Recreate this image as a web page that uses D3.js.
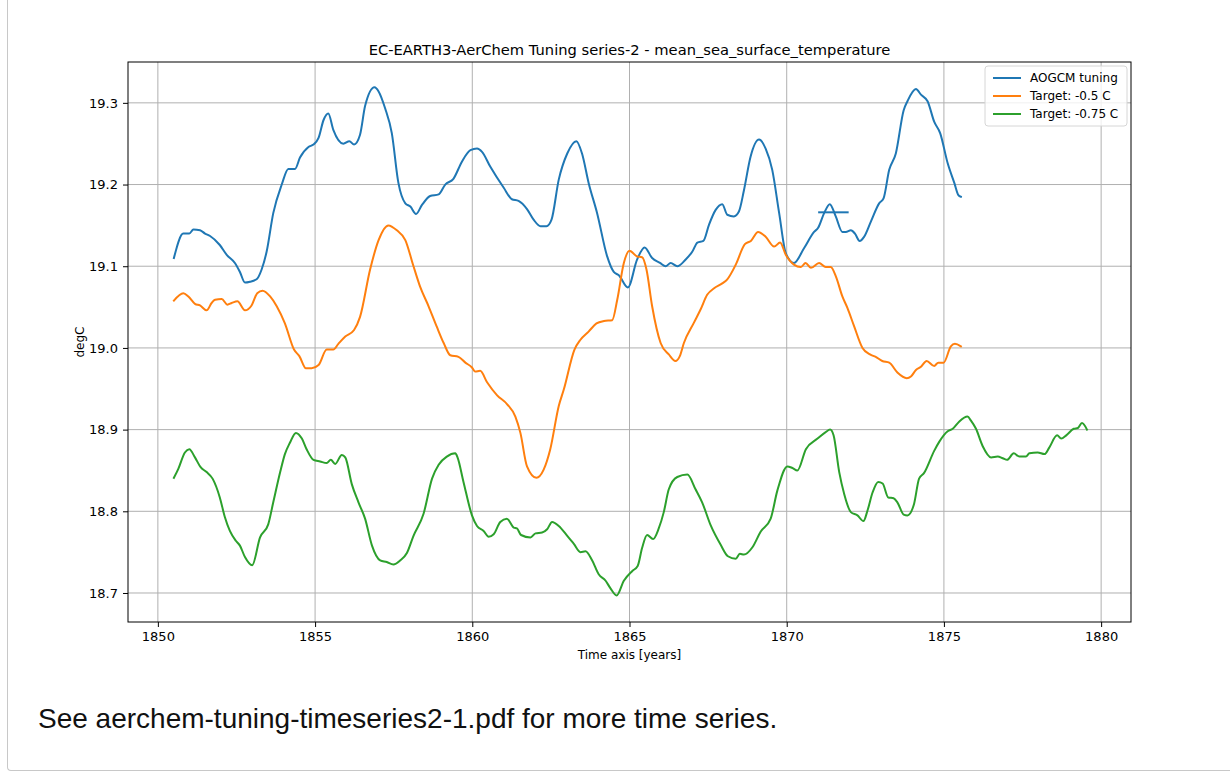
<!DOCTYPE html>
<html>
<head>
<meta charset="utf-8">
<script src="https://cdn.jsdelivr.net/npm/d3@7"></script>
<style>
  html, body { margin: 0; padding: 0; background: #fff; }
  body { width: 1230px; height: 773px; overflow: hidden; position: relative; }
  #frame { position: absolute; left: 7px; top: -10px; width: 1300px; height: 780px;
           border-left: 1px solid #c8c8c8; border-bottom: 1px solid #c8c8c8; border-bottom-left-radius: 4px; }
  #note { position: absolute; left: 38px; top: 703px; font-family: "Liberation Sans", Arial, sans-serif;
          font-size: 28px; color: #111; white-space: nowrap; }
  svg { position: absolute; left: 0; top: 0; }
</style>
</head>
<body>
<div id="frame"></div>
<svg id="chart" width="1230" height="700"></svg>
<div id="note">See aerchem-tuning-timeseries2-1.pdf for more time series.</div>
<script>
// ---- data (years, degC) ----
const xTicks = [1850, 1855, 1860, 1865, 1870, 1875, 1880];
const yTicks = [18.7, 18.8, 18.9, 19.0, 19.1, 19.2, 19.3];
const seriesNames = ["AOGCM tuning", "Target: -0.5 C", "Target: -0.75 C"];
const seriesColors = ["#1f77b4", "#ff7f0e", "#2ca02c"];

const aogcmYears = [1850.51,1850.81,1851.00,1851.13,1851.34,1851.50,1851.66,1851.97,1852.19,1852.45,1852.61,1852.77,1852.93,1853.14,1853.30,1853.46,1853.67,1853.94,1854.15,1854.36,1854.52,1854.79,1854.95,1855.11,1855.27,1855.42,1855.58,1855.90,1856.09,1856.24,1856.43,1856.59,1856.89,1857.02,1857.23,1857.44,1857.65,1857.87,1858.03,1858.21,1858.40,1858.66,1858.93,1859.14,1859.40,1859.67,1859.94,1860.15,1860.31,1860.57,1861.00,1861.26,1861.47,1861.74,1861.95,1862.17,1862.36,1862.52,1862.75,1863.02,1863.31,1863.49,1863.70,1863.97,1864.29,1864.50,1864.66,1864.95,1865.24,1865.48,1865.72,1865.97,1866.15,1866.31,1866.52,1866.78,1867.00,1867.16,1867.35,1867.53,1867.74,1867.95,1868.11,1868.32,1868.48,1868.64,1868.85,1869.12,1869.33,1869.54,1869.76,1869.97,1870.23,1870.55,1870.87,1871.00,1871.19,1871.37,1871.56,1871.77,1871.88,1872.04,1872.17,1872.32,1872.46,1872.68,1872.94,1873.08,1873.26,1873.47,1873.72,1873.84,1874.11,1874.27,1874.48,1874.69,1874.88,1875.12,1875.33,1875.46,1875.54];
const aogcmValues = [19.110,19.140,19.140,19.145,19.144,19.140,19.137,19.126,19.114,19.104,19.093,19.080,19.081,19.084,19.096,19.118,19.165,19.200,19.219,19.219,19.233,19.246,19.249,19.257,19.279,19.287,19.267,19.250,19.253,19.249,19.261,19.296,19.319,19.314,19.293,19.263,19.202,19.177,19.173,19.164,19.175,19.186,19.188,19.200,19.207,19.228,19.242,19.244,19.240,19.222,19.196,19.182,19.180,19.170,19.157,19.149,19.149,19.157,19.206,19.238,19.253,19.238,19.202,19.165,19.112,19.093,19.089,19.074,19.108,19.123,19.110,19.104,19.100,19.104,19.100,19.108,19.118,19.129,19.131,19.151,19.169,19.176,19.163,19.161,19.167,19.193,19.234,19.255,19.244,19.218,19.165,19.116,19.104,19.122,19.142,19.147,19.165,19.176,19.161,19.142,19.142,19.144,19.140,19.131,19.136,19.155,19.177,19.183,19.218,19.238,19.291,19.302,19.317,19.310,19.302,19.277,19.263,19.226,19.202,19.187,19.185];
// short duplicated stretch in the AOGCM record
const aogcmDupYears = [1871.00, 1871.97];
const aogcmDupValues = [19.166, 19.166];

const target05Years = [1850.51,1850.81,1850.97,1851.18,1851.34,1851.55,1851.71,1851.82,1852.03,1852.21,1852.35,1852.53,1852.77,1852.98,1853.16,1853.33,1853.57,1853.78,1854.04,1854.33,1854.50,1854.71,1854.89,1855.11,1855.37,1855.58,1855.74,1855.96,1856.24,1856.43,1856.75,1857.02,1857.33,1857.60,1857.87,1858.13,1858.34,1858.61,1858.87,1859.09,1859.30,1859.56,1859.78,1859.99,1860.09,1860.25,1860.47,1860.79,1861.11,1861.37,1861.53,1861.74,1862.04,1862.27,1862.48,1862.75,1862.91,1863.25,1863.44,1863.70,1863.95,1864.19,1864.45,1864.61,1864.82,1865.00,1865.24,1865.40,1865.54,1865.72,1865.99,1866.25,1866.46,1866.60,1866.73,1867.05,1867.26,1867.47,1867.69,1867.95,1868.11,1868.38,1868.67,1868.86,1869.09,1869.33,1869.60,1869.79,1869.97,1870.23,1870.45,1870.60,1870.77,1871.03,1871.24,1871.40,1871.56,1871.77,1871.93,1872.14,1872.41,1872.65,1872.83,1873.04,1873.26,1873.52,1873.82,1873.95,1874.11,1874.27,1874.45,1874.69,1874.82,1874.99,1875.22,1875.35,1875.54];
const target05Values = [19.058,19.067,19.063,19.054,19.052,19.046,19.055,19.059,19.060,19.053,19.055,19.057,19.046,19.052,19.067,19.070,19.063,19.051,19.030,18.998,18.990,18.975,18.975,18.979,18.998,18.998,19.005,19.014,19.022,19.038,19.096,19.132,19.150,19.144,19.132,19.100,19.075,19.051,19.026,19.006,18.991,18.989,18.982,18.976,18.971,18.972,18.958,18.942,18.931,18.916,18.896,18.855,18.841,18.851,18.876,18.929,18.949,18.998,19.010,19.020,19.030,19.033,19.034,19.059,19.104,19.119,19.112,19.111,19.096,19.051,19.006,18.992,18.984,18.990,19.006,19.031,19.047,19.065,19.073,19.079,19.084,19.102,19.127,19.131,19.142,19.136,19.124,19.129,19.114,19.102,19.099,19.104,19.098,19.104,19.099,19.099,19.088,19.063,19.049,19.027,19.000,18.992,18.989,18.984,18.982,18.970,18.963,18.965,18.973,18.977,18.984,18.978,18.982,18.982,19.002,19.005,19.002];

const target075Years = [1850.51,1850.65,1850.86,1851.00,1851.18,1851.36,1851.55,1851.74,1851.97,1852.13,1852.29,1852.48,1852.61,1852.77,1853.00,1853.25,1853.51,1853.67,1853.89,1854.04,1854.20,1854.39,1854.58,1854.73,1854.95,1855.16,1855.37,1855.50,1855.64,1855.85,1855.96,1856.17,1856.38,1856.59,1856.81,1857.07,1857.28,1857.49,1857.71,1857.92,1858.13,1858.45,1858.72,1858.93,1859.19,1859.46,1859.53,1859.72,1859.99,1860.15,1860.36,1860.52,1860.68,1860.89,1861.10,1861.32,1861.42,1861.55,1861.85,1862.01,1862.22,1862.38,1862.54,1862.75,1863.02,1863.23,1863.44,1863.60,1863.81,1864.02,1864.24,1864.39,1864.59,1864.82,1865.09,1865.26,1865.40,1865.56,1865.75,1865.93,1866.09,1866.25,1866.52,1866.84,1867.10,1867.31,1867.58,1867.90,1868.13,1868.38,1868.51,1868.64,1868.91,1869.17,1869.49,1869.70,1870.02,1870.18,1870.34,1870.61,1870.98,1871.24,1871.38,1871.49,1871.67,1871.83,1872.04,1872.25,1872.44,1872.57,1872.73,1872.91,1873.05,1873.23,1873.40,1873.52,1873.72,1873.84,1874.05,1874.21,1874.37,1874.69,1874.85,1875.12,1875.28,1875.49,1875.75,1875.86,1876.02,1876.23,1876.50,1876.71,1876.87,1877.01,1877.22,1877.40,1877.61,1877.72,1877.98,1878.20,1878.35,1878.60,1878.73,1878.89,1879.13,1879.26,1879.39,1879.55];
const target075Values = [18.841,18.852,18.872,18.876,18.866,18.854,18.848,18.840,18.817,18.793,18.776,18.764,18.758,18.744,18.734,18.768,18.784,18.811,18.848,18.870,18.884,18.896,18.889,18.876,18.863,18.861,18.859,18.863,18.858,18.869,18.866,18.833,18.811,18.791,18.758,18.740,18.738,18.735,18.740,18.749,18.770,18.797,18.840,18.857,18.867,18.871,18.866,18.836,18.795,18.782,18.776,18.769,18.772,18.787,18.791,18.780,18.779,18.771,18.768,18.773,18.774,18.778,18.787,18.782,18.770,18.760,18.750,18.751,18.740,18.723,18.715,18.706,18.697,18.715,18.727,18.733,18.755,18.771,18.766,18.779,18.799,18.827,18.842,18.845,18.827,18.811,18.783,18.759,18.745,18.742,18.748,18.747,18.756,18.775,18.791,18.825,18.855,18.853,18.850,18.876,18.889,18.897,18.900,18.893,18.848,18.821,18.799,18.795,18.788,18.801,18.823,18.836,18.834,18.817,18.816,18.811,18.796,18.795,18.809,18.840,18.847,18.874,18.885,18.898,18.901,18.910,18.916,18.911,18.901,18.880,18.866,18.867,18.865,18.863,18.871,18.867,18.867,18.871,18.872,18.870,18.878,18.893,18.889,18.893,18.901,18.902,18.908,18.900];

const xLimits = [1849.05, 1880.95];
const yLimits = [18.6645, 19.350];

// ---- layout ----
const plot = { left: 128, right: 1131, top: 62, bottom: 622 };
const svg = d3.select("#chart");
const x = d3.scaleLinear().domain(xLimits).range([plot.left, plot.right]);
const y = d3.scaleLinear().domain(yLimits).range([plot.bottom, plot.top]);
const font = "'DejaVu Sans', sans-serif";

// grid
const grid = svg.append("g").attr("stroke", "#b0b0b0").attr("stroke-width", 1);
grid.selectAll(".gx").data(xTicks).join("line")
  .attr("x1", d => x(d)).attr("x2", d => x(d)).attr("y1", plot.top).attr("y2", plot.bottom);
grid.selectAll(".gy").data(yTicks).join("line")
  .attr("y1", d => y(d)).attr("y2", d => y(d)).attr("x1", plot.left).attr("x2", plot.right);

// series
const zip = (xs, ys) => xs.map((t, i) => [t, ys[i]]);
const line = d3.line().x(d => x(d[0])).y(d => y(d[1])).curve(d3.curveMonotoneX);
const series = [
  zip(aogcmYears, aogcmValues),
  zip(target05Years, target05Values),
  zip(target075Years, target075Values)
];
svg.append("clipPath").attr("id", "clip").append("rect")
  .attr("x", plot.left).attr("y", plot.top).attr("width", plot.right - plot.left).attr("height", plot.bottom - plot.top);
const lines = svg.append("g").attr("clip-path", "url(#clip)");
series.forEach((s, i) => {
  lines.append("path").attr("d", line(s)).attr("fill", "none")
    .attr("stroke", seriesColors[i]).attr("stroke-width", 2).attr("stroke-linejoin", "round").attr("stroke-linecap", "square");
});
lines.append("path").attr("d", d3.line().x(d => x(d[0])).y(d => y(d[1]))(zip(aogcmDupYears, aogcmDupValues)))
  .attr("fill", "none").attr("stroke", seriesColors[0]).attr("stroke-width", 2);

// axes
const xAxis = d3.axisBottom(x).tickValues(xTicks).tickFormat(d3.format("d")).tickSize(5).tickPadding(5);
const yAxis = d3.axisLeft(y).tickValues(yTicks).tickFormat(d3.format(".1f")).tickSize(5).tickPadding(5);
const gx = svg.append("g").attr("transform", `translate(0,${plot.bottom})`).call(xAxis);
const gy = svg.append("g").attr("transform", `translate(${plot.left},0)`).call(yAxis);
[gx, gy].forEach(g => {
  g.select(".domain").remove();
  g.selectAll(".tick line").attr("stroke", "#000").attr("stroke-width", 1);
  g.selectAll(".tick text").attr("font-family", font).attr("font-size", 13).attr("fill", "#000");
});

// spines
svg.append("rect").attr("x", plot.left).attr("y", plot.top)
  .attr("width", plot.right - plot.left).attr("height", plot.bottom - plot.top)
  .attr("fill", "none").attr("stroke", "#000").attr("stroke-width", 1);

// labels
svg.append("text").attr("x", (plot.left + plot.right) / 2).attr("y", 55).attr("text-anchor", "middle")
  .attr("font-family", font).attr("font-size", 14.7).attr("fill", "#000")
  .text("EC-EARTH3-AerChem Tuning series-2 - mean_sea_surface_temperature");
svg.append("text").attr("x", (plot.left + plot.right) / 2).attr("y", 659).attr("text-anchor", "middle")
  .attr("font-family", font).attr("font-size", 12).attr("fill", "#000").text("Time axis [years]");
svg.append("text").attr("transform", `translate(84,${(plot.top + plot.bottom) / 2}) rotate(-90)`)
  .attr("text-anchor", "middle").attr("font-family", font).attr("font-size", 12).attr("fill", "#000").text("degC");

// legend
const lg = svg.append("g").attr("transform", "translate(985,66)");
lg.append("rect").attr("width", 142).attr("height", 60).attr("rx", 3)
  .attr("fill", "#fff").attr("fill-opacity", 0.8).attr("stroke", "#d6d6d6");
seriesNames.forEach((n, i) => {
  const yy = 12 + i * 18;
  lg.append("line").attr("x1", 8).attr("x2", 36).attr("y1", yy).attr("y2", yy)
    .attr("stroke", seriesColors[i]).attr("stroke-width", 2);
  lg.append("text").attr("x", 45).attr("y", yy + 4).attr("font-family", font).attr("font-size", 12)
    .attr("fill", "#000").text(n);
});
</script>
</body>
</html>
